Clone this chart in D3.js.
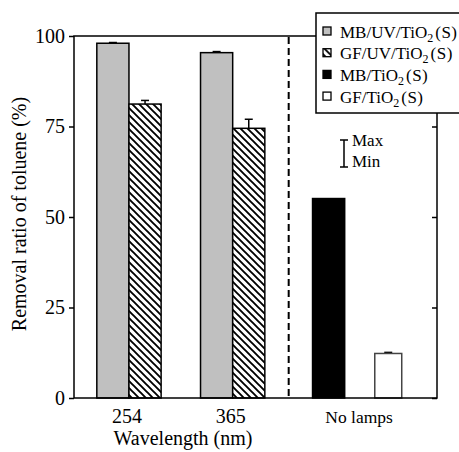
<!DOCTYPE html>
<html lang="en">
<head>
    <meta charset="UTF-8">
    <title>Removal ratio of toluene</title>
    <style>
        body {
            margin: 0;
            background-color: #fff;
        }
        svg text {
            font-family: "Liberation Serif", "Times New Roman", serif;
            fill: #000;
        }
    </style>
    <script src="https://d3js.org/d3.v7.min.js"></script>
</head>
<body>
    <svg width="459" height="452"></svg>

    <script>
        // data
        const groups = ["254", "365", "No lamps"];
        const groupPos = [0, 1, 2.2];          // position of each group on the x scale
        const mbUvValues = [98.0, 95.4];
        const mbUvErrors = [0.2, 0.3];
        const gfUvValues = [81.2, 74.5];
        const gfUvErrors = [1.0, 2.5];
        const noLampValues = [55.1, 12.3];    // MB/TiO2(S), GF/TiO2(S)
        const noLampErrors = [0, 0.3];
        const yTicks = [0, 25, 50, 75, 100];
        const legendNames = [
            ["MB/UV/TiO", "2", "(S)"],
            ["GF/UV/TiO", "2", "(S)"],
            ["MB/TiO", "2", "(S)"],
            ["GF/TiO", "2", "(S)"]
        ];

        const svg = d3.select("svg");
        const plotL = 74, plotR = 437, plotT = 36, plotB = 398;

        const x = d3.scaleLinear().domain([-0.53, 2.97]).range([plotL, plotR]);
        const y = d3.scaleLinear().domain([0, 100]).range([plotB, plotT]);

        // hatch pattern
        const defs = svg.append("defs");
        defs.append("pattern")
            .attr("id", "hatch")
            .attr("patternUnits", "userSpaceOnUse")
            .attr("width", 7).attr("height", 7)
            .call(p => {
                p.append("rect").attr("width", 7).attr("height", 7).attr("fill", "#fff");
                p.append("path")
                    .attr("d", "M0,0 L7,7 M-2,5 L2,9 M5,-2 L9,2")
                    .attr("stroke", "#000").attr("stroke-width", 1.9);
            });

        // bars
        const bw = 0.31;
        const bars = [];
        mbUvValues.forEach((v, i) => bars.push({ pos: groupPos[i] - bw, w: bw, v: v, e: mbUvErrors[i], fill: "#c0c0c0" }));
        gfUvValues.forEach((v, i) => bars.push({ pos: groupPos[i], w: bw, v: v, e: gfUvErrors[i], fill: "url(#hatch)" }));
        bars.push({ pos: groupPos[2] - 0.43, w: 0.31, v: noLampValues[0], e: noLampErrors[0], fill: "#000" });
        bars.push({ pos: groupPos[2] + 0.17, w: 0.26, v: noLampValues[1], e: noLampErrors[1], fill: "#fff" });

        // error bars (upper half)
        svg.selectAll("g.err")
            .data(bars.filter(d => d.e > 0))
            .enter().append("g")
            .attr("class", "err")
            .each(function (d) {
                const cx = (x(d.pos) + x(d.pos + d.w)) / 2;
                const g = d3.select(this);
                g.append("line").attr("x1", cx).attr("x2", cx)
                    .attr("y1", y(d.v)).attr("y2", y(d.v + d.e))
                    .attr("stroke", "#000").attr("stroke-width", 1.5);
                g.append("line").attr("x1", cx - 4).attr("x2", cx + 4)
                    .attr("y1", y(d.v + d.e)).attr("y2", y(d.v + d.e))
                    .attr("stroke", "#000").attr("stroke-width", 1.5);
            });

        svg.selectAll("rect.bar")
            .data(bars)
            .enter().append("rect")
            .attr("class", "bar")
            .attr("x", d => x(d.pos))
            .attr("y", d => y(d.v))
            .attr("width", d => x(d.pos + d.w) - x(d.pos))
            .attr("height", d => y(0) - y(d.v))
            .attr("fill", d => d.fill)
            .attr("stroke", (d, i) => i === 5 ? "#444" : "#000")
            .attr("stroke-width", 1.5);

        // dashed separator
        svg.append("line")
            .attr("x1", x(1.54)).attr("x2", x(1.54))
            .attr("y1", y(100) + 1).attr("y2", y(0))
            .attr("stroke", "#000").attr("stroke-width", 2)
            .attr("stroke-dasharray", "7,4");

        // frame
        svg.append("rect")
            .attr("x", plotL).attr("y", plotT)
            .attr("width", plotR - plotL).attr("height", plotB - plotT)
            .attr("fill", "none").attr("stroke", "#000").attr("stroke-width", 1.5);

        // left axis
        const yAxis = svg.append("g")
            .attr("transform", `translate(${plotL},0)`)
            .call(d3.axisLeft(y).tickValues(yTicks).tickSize(5).tickPadding(4));
        yAxis.attr("font-size", 20).attr("font-family", "Liberation Serif, serif");
        yAxis.select(".domain").remove();
        yAxis.selectAll("line").attr("stroke-width", 1.5);
        yAxis.selectAll("text").style("font-size", "20px");

        // right axis, ticks inward
        const yAxisR = svg.append("g")
            .attr("transform", `translate(${plotR},0)`)
            .call(d3.axisLeft(y).tickValues(yTicks).tickSize(5).tickFormat(""));
        yAxisR.select(".domain").remove();
        yAxisR.selectAll("line").attr("stroke-width", 1.5);

        // group labels
        svg.selectAll("text.grp")
            .data(groups)
            .enter().append("text")
            .attr("class", "grp")
            .attr("x", (d, i) => x(groupPos[i]) + (i === 2 ? 2 : -2))
            .attr("y", 423)
            .attr("text-anchor", "middle")
            .style("font-size", (d, i) => i === 2 ? "17.5px" : "20px")
            .text(d => d);

        svg.append("text")
            .attr("x", 183).attr("y", 445)
            .attr("text-anchor", "middle")
            .style("font-size", "20px")
            .text("Wavelength (nm)");

        svg.append("text")
            .attr("transform", "translate(26,214) rotate(-90)")
            .attr("text-anchor", "middle")
            .style("font-size", "20px")
            .text("Removal ratio of toluene (%)");

        // Max / Min key
        const kx = 344;
        svg.append("path")
            .attr("d", `M${kx - 4},140 H${kx + 4} M${kx},140 V167 M${kx - 4},167 H${kx + 4}`)
            .attr("stroke", "#000").attr("stroke-width", 1.5).attr("fill", "none");
        svg.append("text").attr("x", 352).attr("y", 146).style("font-size", "17px").text("Max");
        svg.append("text").attr("x", 352).attr("y", 167).style("font-size", "17px").text("Min");

        // legend
        const legend = svg.append("g");
        legend.append("rect")
            .attr("x", 316).attr("y", 13)
            .attr("width", 200).attr("height", 100)
            .attr("fill", "#fff").attr("stroke", "#000").attr("stroke-width", 1.5);
        const legendFills = ["#c0c0c0", "url(#hatch)", "#000", "#fff"];
        const items = legend.selectAll("g.item")
            .data(legendNames)
            .enter().append("g")
            .attr("class", "item")
            .attr("transform", (d, i) => `translate(0,${31.5 + i * 21.7})`);
        items.append("rect")
            .attr("x", 323).attr("y", -4.5)
            .attr("width", 8).attr("height", 8)
            .attr("fill", (d, i) => legendFills[i])
            .attr("stroke", "#000").attr("stroke-width", 1.3);
        const lt = items.append("text")
            .attr("x", 340).attr("y", 6)
            .style("font-size", "17px");
        lt.append("tspan").text(d => d[0]);
        lt.append("tspan").attr("dy", 4).style("font-size", "12px").text(d => d[1]);
        lt.append("tspan").attr("dy", -4).attr("dx", 2).style("letter-spacing", "0.5px").text(d => d[2]);
    </script>
</body>
</html>
